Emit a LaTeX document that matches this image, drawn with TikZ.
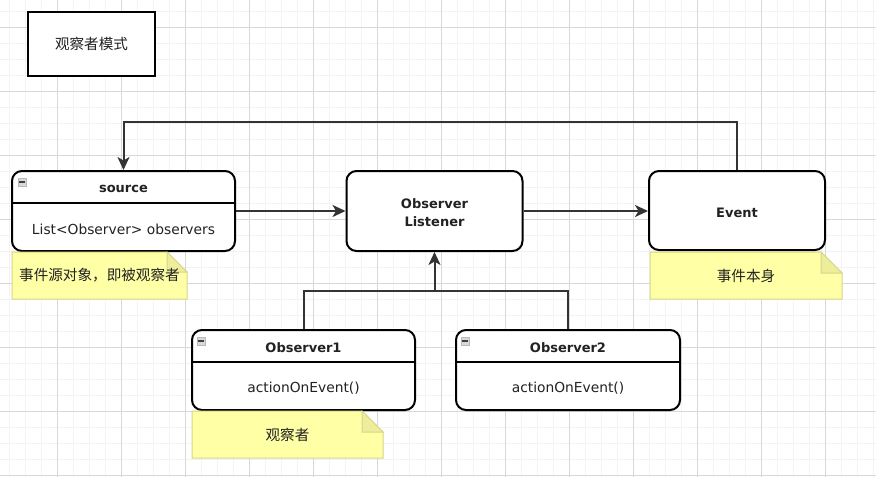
\documentclass[tikz,border=0pt]{standalone}
\usepackage{fontspec}
\setmainfont{DejaVu Sans}
\newfontfamily\cjk{Noto Sans CJK SC}
\usetikzlibrary{arrows.meta}
\definecolor{notefill}{HTML}{FFFFA6}
\definecolor{notedraw}{HTML}{D6D68A}
\definecolor{foldfill}{HTML}{EDED9C}
\definecolor{linec}{HTML}{333333}
\definecolor{txt}{HTML}{222222}
\definecolor{minorgrid}{HTML}{F3F3F3}
\definecolor{majorgrid}{HTML}{D8D8D8}
\newcommand\mynote[6]{% x1,y1,x2,y2,fold,name
  \path[fill=notefill,draw=notedraw,line width=1pt] (#1,#2) -- (#3-#5,#2) -- (#3,#2+#5) -- (#3,#4) -- (#1,#4) -- cycle;
  \path[fill=foldfill,draw=notedraw,line width=1pt] (#3-#5,#2) -- (#3-#5,#2+#5) -- (#3,#2+#5) -- cycle;
  \coordinate (#6) at ({(#1+#3)/2},{(#2+#4)/2});
}
\begin{document}
\begin{tikzpicture}[x=1pt,y=-1pt,
  every node/.style={font=\fontsize{13.8}{17}\selectfont, text=txt},
  box/.style={draw=black, line width=2pt, rounded corners=10pt, fill=white, inner sep=0pt},
  conn/.style={draw=linec, line width=2pt, -{Stealth[length=13pt,width=12pt,inset=3.5pt]}},
  plain/.style={draw=linec, line width=2pt},
  divider/.style={draw=black, line width=2pt},
  cn/.style={font=\fontsize{14.6}{17}\selectfont\cjk, text=txt},
  hd/.style={font=\fontsize{13}{18}\selectfont\bfseries},
  collapse/.style={draw=gray!55, fill=gray!30, minimum width=8pt, minimum height=8pt, inner sep=0pt,
    path picture={\draw[black!75,line width=1.3pt] ([xshift=1.2pt]path picture bounding box.west) -- ([xshift=-1.2pt]path picture bounding box.east);}}
]
\useasboundingbox (0,0) rectangle (876,477);
\fill[white] (0,0) rectangle (876,477);
% grid
\foreach \x in {9,25,...,873} \draw[minorgrid,line width=1pt] (\x,0) -- (\x,477);
\foreach \y in {11,27,...,475} \draw[minorgrid,line width=1pt] (0,\y) -- (876,\y);
\foreach \x in {57,121,...,873} \draw[majorgrid,line width=1pt] (\x,0) -- (\x,477);
\foreach \y in {27,91,...,475} \draw[majorgrid,line width=1pt] (0,\y) -- (876,\y);

% title
\node[draw=black, line width=2pt, fill=white, minimum width=127pt, minimum height=64pt, cn] (title) at (91.5,44) {观察者模式};

% source
\node[box, minimum width=223pt, minimum height=80pt] (src) at (123.5,211) {};
\draw[divider] (12,203) -- (235,203);
\node[hd] (srct) at (123.5,189) {source};
\node (srca) at (123.5,229) {List<Observer> observers};
\node[collapse] (srcc) at (22,182) {};

% listener
\node[box, minimum width=176pt, minimum height=80pt] (lis) at (434.5,211) {};
\node[align=center, hd] (list) at (434.5,212.5) {Observer\\Listener};

% event
\node[box, minimum width=176pt, minimum height=79pt] (evt) at (737,210.5) {};
\node[hd] (evtt) at (737,212.5) {Event};

% observer1
\node[box, minimum width=223pt, minimum height=80pt] (ob1) at (303.5,370) {};
\draw[divider] (192,362) -- (415,362);
\node[hd] (ob1t) at (303.5,348) {Observer1};
\node (ob1a) at (303.5,388) {actionOnEvent()};
\node[collapse] (ob1c) at (201,341) {};

% observer2
\node[box, minimum width=224pt, minimum height=80pt] (ob2) at (568,370) {};
\draw[divider] (456,362) -- (680,362);
\node[hd] (ob2t) at (568,348) {Observer2};
\node (ob2a) at (568,388) {actionOnEvent()};
\node[collapse] (ob2c) at (465,341) {};

% notes
\mynote{12}{252}{187}{299}{20}{n1c}
\node[cn] (n1) at (n1c) {事件源对象，即被观察者};
\mynote{650}{252}{842}{299}{21}{n2c}
\node[cn] (n2) at (n2c) {事件本身};
\mynote{192}{411}{383}{458}{21}{n3c}
\node[cn] (n3) at (n3c) {观察者};

% connectors
\draw[conn] (evt.north) -- ++(0,-48) -| (src.north);
\draw[conn] (src.east) -- (lis.west);
\draw[conn] (lis.east) -- (evt.west |- lis.east);
\coordinate (j) at (434.5,291);
\draw[plain] (ob1.north) |- (j);
\draw[plain] (ob2.north) |- (j);
\draw[conn] (j) -- (lis.south);
\end{tikzpicture}
\end{document}
